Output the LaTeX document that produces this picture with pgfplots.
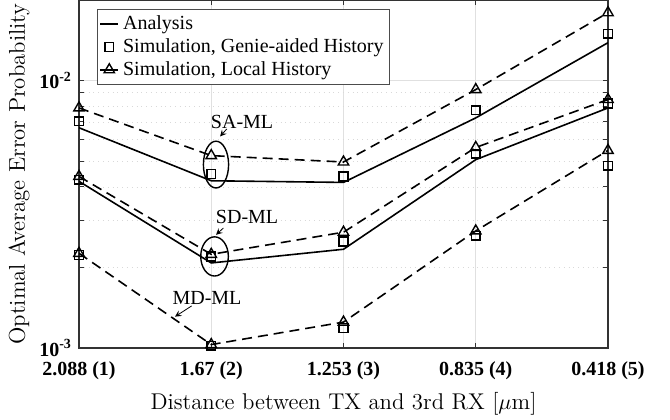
\documentclass[border=0pt]{standalone}
\usepackage{pgfplots}
\pgfplotsset{compat=1.18}
\usepackage{fontspec}
\setmainfont{Liberation Serif}
\begin{document}
\begin{tikzpicture}
\begin{axis}[
 scale only axis, width=264.5pt, height=174pt,
 at={(0,0)}, anchor=south west,
 xmin=0, xmax=4, ymode=log, ymin=1e-3, ymax=0.02,
 xtick={0,1,2,3,4},
 xticklabels={2.088 (1),1.67 (2),1.253 (3),0.835 (4),0.418 (5)},
 ytick={0.001,0.01},
 yticklabels={10\textsuperscript{-3},10\textsuperscript{-2}},
 ticklabel style={font=\fontsize{10}{12}\selectfont\bfseries},
 xticklabel style={yshift=-3.5pt},
 tick align=inside, major tick length=2.5pt, minor tick length=2.5pt,
 tick style={black!80, line width=0.5pt},
 axis line style={black!80, line width=0.6pt},
 grid=both,
 major grid style={black!12, line width=0.4pt},
 minor grid style={black!15, dotted, line width=0.4pt},
 xmajorgrids=true, yminorgrids=true, ymajorgrids=true, xminorgrids=false,
 xlabel={\fontfamily{lmr}\selectfont Distance between TX and 3rd RX [$\mu$m]},
 ylabel={\fontfamily{lmr}\selectfont Optimal Average Error Probability},
 label style={font=\fontsize{11.4}{13}\selectfont},
 xlabel style={yshift=1pt},
 ylabel style={yshift=-2pt},
 legend cell align=left,
 legend style={at={(0.034,0.974)}, anchor=north west, draw=black!70, line width=0.5pt,
   font=\fontsize{10}{11}\selectfont, inner sep=1pt, row sep=-1pt,
   fill=white},
 legend image code/.code={\draw[mark repeat=2,mark phase=2,#1] plot coordinates {(0pt,0pt)(4.5pt,0pt)(9pt,0pt)};},
 every axis plot/.append style={line width=0.8pt},
 dashstyle/.style={dash pattern=on 5pt off 3pt},
]
% legend images
\addlegendimage{black, solid}
\addlegendentry{Analysis}
\addlegendimage{black, only marks, mark=square, mark size=2.2pt, mark options={solid, line width=0.7pt}}
\addlegendentry{Simulation, Genie-aided History}
\addlegendimage{black, solid, mark=triangle, mark size=3pt, mark options={solid, line width=0.7pt}}
\addlegendentry{Simulation, Local History}

% SA-ML
\addplot[black, solid, forget plot] coordinates {(0,0.00666) (1,0.00422) (2,0.00416) (3,0.00725) (4,0.01385)};
\addplot[black, only marks, mark=square, mark size=2.2pt, mark options={solid, line width=0.7pt}, forget plot]
 coordinates {(0,0.00704) (1,0.00448) (2,0.00438) (3,0.00774) (4,0.01496)};
\addplot[black, dashstyle, mark=triangle, mark size=3pt, mark options={solid, line width=0.7pt}, forget plot]
 coordinates {(0,0.0079) (1,0.00524) (2,0.00496) (3,0.00925) (4,0.01793)};

% SD-ML
\addplot[black, solid, forget plot] coordinates {(0,0.0042) (1,0.00208) (2,0.00234) (3,0.00506) (4,0.0079)};
\addplot[black, only marks, mark=square, mark size=2.2pt, mark options={solid, line width=0.7pt}, forget plot]
 coordinates {(0,0.00426) (1,0.0022) (2,0.0025) (3,0.00533) (4,0.0082)};
\addplot[black, dashstyle, mark=triangle, mark size=3pt, mark options={solid, line width=0.7pt}, forget plot]
 coordinates {(0,0.00438) (1,0.00224) (2,0.00271) (3,0.00562) (4,0.00849)};

% MD-ML
\addplot[black, only marks, mark=square, mark size=2.2pt, mark options={solid, line width=0.7pt}, forget plot]
 coordinates {(0,0.00223) (1,0.00102) (2,0.00119) (3,0.00263) (4,0.0048)};
\addplot[black, dashstyle, mark=triangle, mark size=3pt, mark options={solid, line width=0.7pt}, forget plot]
 coordinates {(0,0.00226) (1,0.00103) (2,0.00125) (3,0.00274) (4,0.00548)};

% annotations
\draw[black, line width=0.7pt] (axis cs:1.036,0.00485) ellipse [x radius=6.3pt, y radius=11.7pt];
\draw[black, line width=0.7pt] (axis cs:1.025,0.0022) ellipse [x radius=6.9pt, y radius=9.8pt];
\node[font=\fontsize{10}{12}\selectfont] at (axis cs:1.233,0.00702) {SA-ML};
\node[font=\fontsize{10}{12}\selectfont] at (axis cs:1.271,0.0031) {SD-ML};
\node[font=\fontsize{10}{12}\selectfont] at (axis cs:0.968,0.00154) {MD-ML};
\draw[->, >=stealth, line width=0.4pt] (axis cs:1.117,0.00659) -- (axis cs:1.067,0.00618);
\draw[->, >=stealth, line width=0.4pt] (axis cs:1.092,0.00281) -- (axis cs:1.036,0.00265);
\draw[->, >=stealth, line width=0.4pt] (axis cs:0.852,0.001437) -- (axis cs:0.726,0.00131);
\end{axis}
\pgfresetboundingbox
\path (-39.5pt,-35.5pt) rectangle (295.5pt,174pt);
\end{tikzpicture}
\end{document}
